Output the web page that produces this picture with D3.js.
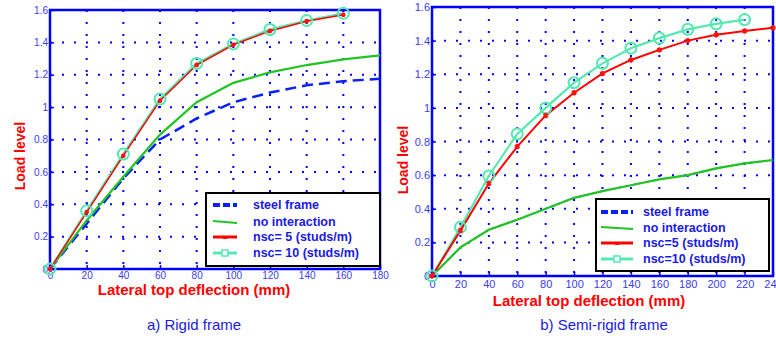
<!DOCTYPE html>
<html><head><meta charset="utf-8">
<script src="https://cdn.jsdelivr.net/npm/d3@7"></script>
<style>body{margin:0;background:#fff}svg{display:block}text{font-family:"Liberation Sans",Arial,sans-serif}</style>
</head><body>
<svg id="c" width="776" height="341"></svg>
<script>
// ---------- data ----------
const yTicks = [0,0.2,0.4,0.6,0.8,1,1.2,1.4,1.6];
const xTicksLeft = [0,20,40,60,80,100,120,140,160,180];
const xTicksRight = [0,20,40,60,80,100,120,140,160,180,200,220,240];

const xLeft = [0,20,40,60,80,100,120,140,160,180];
const leftSteel = [0,0.28,0.56,0.80,0.93,1.03,1.09,1.135,1.16,1.175];
const leftNoInt = [0,0.30,0.57,0.83,1.03,1.15,1.215,1.26,1.295,1.32];
const leftNsc5  = [0,0.35,0.70,1.04,1.26,1.385,1.47,1.53,1.57];
const leftNsc10 = [0,0.36,0.71,1.05,1.27,1.39,1.48,1.535,1.58];

const xRight = [0,20,40,60,80,100,120,140,160,180,200,220,240];
const rightSteel = [0,0.17,0.275,0.335,0.40,0.465,0.505,0.54,0.575,0.60,0.64,0.67,0.69];
const rightNoInt = [0,0.17,0.275,0.335,0.40,0.465,0.505,0.54,0.575,0.60,0.64,0.67,0.69];
const rightNsc5  = [0,0.27,0.55,0.77,0.955,1.09,1.205,1.285,1.345,1.40,1.435,1.457,1.477];
const rightNsc10 = [0,0.29,0.595,0.845,1.0,1.15,1.265,1.355,1.415,1.467,1.50,1.525];

const legendLeft = ["steel frame","no interaction","nsc= 5 (studs/m)","nsc= 10 (studs/m)"];
const legendRight = ["steel frame","no interaction","nsc=5 (studs/m)","nsc=10 (studs/m)"];
const captions = ["a) Rigid frame","b) Semi-rigid frame"];
const xTitle = "Lateral top deflection (mm)";
const yTitle = "Load level";

// ---------- style ----------
const C = {frame:"#0000ff", tick:"#3b3bf0", grid:"#0000ff", steel:"#0a1eff", noint:"#22c422", nsc5:"#ff0000", nsc10:"#55e8b0", red:"#ff1010", legText:"#1a1ae6"};

const svg = d3.select("#c");

function panel(o){
  const x = d3.scaleLinear().domain([0, o.xmax]).range([o.x0, o.x1]);
  const y = d3.scaleLinear().domain([0, 1.6]).range([o.y0, o.y1]);
  const g = svg.append("g");
  g.selectAll(".gv").data(o.xticks.slice(1, -1)).join("line")
    .attr("x1", d=>x(d)).attr("x2", d=>x(d)).attr("y1", o.y1).attr("y2", o.y0)
    .attr("stroke", C.grid).attr("stroke-width", 2).attr("stroke-dasharray", "2 10");
  g.selectAll(".gh").data(yTicks.slice(1, -1)).join("line")
    .attr("y1", d=>y(d)).attr("y2", d=>y(d)).attr("x1", o.x0).attr("x2", o.x1)
    .attr("stroke", C.grid).attr("stroke-width", 2).attr("stroke-dasharray", "2 10");
  const ax = g.append("g").attr("transform", `translate(0,${o.y0})`)
    .call(d3.axisBottom(x).tickValues(o.xticks).tickSize(-4).tickPadding(4).tickFormat(d3.format("d")));
  const ay = g.append("g").attr("transform", `translate(${o.x0},0)`)
    .call(d3.axisLeft(y).tickValues(yTicks).tickSize(-4).tickPadding(2).tickFormat(d=>d===0?"0":d===1?"1":d3.format(".1f")(d)));
  [ax, ay].forEach(a=>{
    a.select(".domain").remove();
    a.selectAll(".tick line").attr("stroke", C.frame).attr("stroke-width", 1.5);
    a.selectAll(".tick text").attr("fill", C.tick).attr("font-size", o.fs).style("font-family","Liberation Sans, Arial, sans-serif");
  });
  ax.selectAll(".tick text").attr("dy", o.xdy);
  g.append("rect").attr("x", o.x0).attr("y", o.y1).attr("width", o.x1-o.x0).attr("height", o.y0-o.y1)
    .attr("fill", "none").attr("stroke", C.frame).attr("stroke-width", 2.5);
  const line = xs => d3.line().x((d,i)=>x(xs[i])).y(d=>y(d));
  const cg = g.append("g");
  cg.append("path").attr("d", line(o.xs)(o.steel)).attr("fill","none").attr("stroke", C.steel)
    .attr("stroke-width", o.steelW).attr("stroke-dasharray", o.steelDash);
  cg.append("path").attr("d", line(o.xs)(o.noint)).attr("fill","none").attr("stroke", C.noint).attr("stroke-width", 2.2);
  cg.append("path").attr("d", line(o.xs)(o.nsc10)).attr("fill","none").attr("stroke", C.nsc10).attr("stroke-width", 2.2);
  cg.append("path").attr("d", line(o.xs)(o.nsc5)).attr("fill","none").attr("stroke", C.nsc5).attr("stroke-width", o.redW);
  cg.selectAll(".m10").data(o.nsc10).join("circle").attr("cx",(d,i)=>x(o.xs[i])).attr("cy", d=>y(d)).attr("r", 5.5)
    .attr("fill","none").attr("stroke", C.nsc10).attr("stroke-width", 2);
  cg.selectAll(".m5").data(o.nsc5).join("path")
    .attr("transform",(d,i)=>`translate(${x(o.xs[i])},${y(d)})`)
    .attr("d", d3.symbol(d3.symbolAsterisk, o.mSize)()).attr("fill","none").attr("stroke", C.red).attr("stroke-width", 2);
  g.append("text").attr("x", o.xtX).attr("y", o.xtY).attr("text-anchor","middle").attr("fill","#ff0000")
    .attr("font-weight","bold").attr("font-size", 15).text(xTitle);
  g.append("text").attr("transform", `translate(${o.ytX},${o.ytY}) rotate(-90)`).attr("text-anchor","middle")
    .attr("fill","#ff0000").attr("font-weight","bold").attr("font-size", 14).text(yTitle);
  g.append("text").attr("x", o.capX).attr("y", o.capY).attr("text-anchor","middle").attr("fill","#1a1ae6")
    .attr("font-size", 15).text(o.caption);
  const L = o.leg;
  const lg = g.append("g");
  lg.append("rect").attr("x", L.x).attr("y", L.y).attr("width", L.w).attr("height", L.h)
    .attr("fill","#fff").attr("stroke","#000").attr("stroke-width", 2);
  const rows = L.rows;
  const sx0 = L.x + L.s0, sx1 = L.x + L.s1, sm = (sx0+sx1)/2;
  lg.append("line").attr("x1", sx0).attr("x2", sx1).attr("y1", rows[0]).attr("y2", rows[0])
    .attr("stroke", C.steel).attr("stroke-width", 4).attr("stroke-dasharray", L.dash);
  lg.append("line").attr("x1", sx0).attr("x2", sx1).attr("y1", rows[1]-1).attr("y2", rows[1]+1)
    .attr("stroke", C.noint).attr("stroke-width", 2);
  lg.append("line").attr("x1", sx0).attr("x2", sx1).attr("y1", rows[2]).attr("y2", rows[2])
    .attr("stroke", C.nsc5).attr("stroke-width", 3);
  lg.append("rect").attr("x", sm-2).attr("y", rows[2]-1).attr("width", 4).attr("height", 3).attr("fill", C.nsc5);
  lg.append("line").attr("x1", sx0).attr("x2", sx1).attr("y1", rows[3]).attr("y2", rows[3])
    .attr("stroke", C.nsc10).attr("stroke-width", 3);
  lg.append("rect").attr("x", sm-3).attr("y", rows[3]-3).attr("width", 6).attr("height", 6)
    .attr("fill","#fff").attr("stroke", C.nsc10).attr("stroke-width", 1.5);
  lg.selectAll(".lt").data(o.legend).join("text").attr("x", L.x + L.t).attr("y", (d,i)=>rows[i]).attr("dy","0.35em")
    .attr("fill", C.legText).attr("font-weight","bold").attr("font-size", 12.5).text(d=>d);
}

panel({x0:50, x1:380, y0:269, y1:10, xmax:180, xticks:xTicksLeft, fs:10, xdy:"0.6em", mSize:14,
  xs:xLeft, steel:leftSteel, noint:leftNoInt, nsc5:leftNsc5, nsc10:leftNsc10, steelW:2.5, steelDash:"11 6", redW:1.5,
  xtX:194, xtY:295, ytX:25, ytY:156, capX:194, capY:330, caption:captions[0],
  legend:legendLeft, leg:{x:206, y:193, w:174, h:73, rows:[205,222,237,253], s0:7, s1:31, t:47, dash:"7 3"}});

panel({x0:432, x1:773, y0:276, y1:7, xmax:240, xticks:xTicksRight, fs:11, xdy:"0.75em", mSize:20,
  xs:xRight, steel:rightSteel, noint:rightNoInt, nsc5:rightNsc5, nsc10:rightNsc10, steelW:1.5, steelDash:"4 3", redW:2,
  xtX:589, xtY:306, ytX:408, ytY:160, capX:604, capY:330, caption:captions[1],
  legend:legendRight, leg:{x:596, y:199, w:173, h:72, rows:[212,228,243,259], s0:5, s1:37, t:47, dash:"7 3"}});
</script>
</body></html>
